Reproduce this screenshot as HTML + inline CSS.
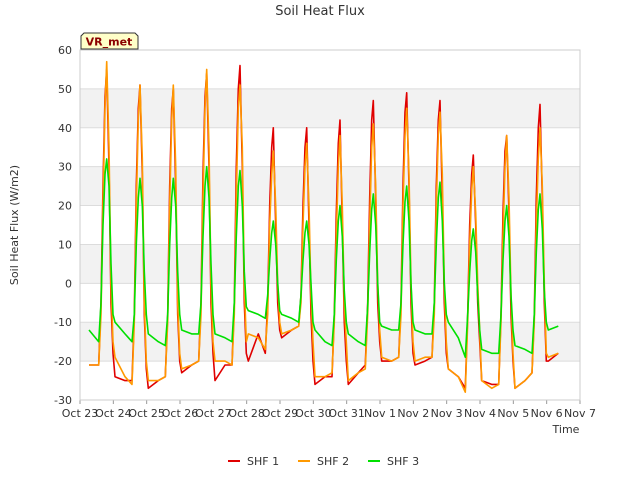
<!DOCTYPE html>
<html><head><meta charset="utf-8"><style>
body{margin:0;background:#fff;font-family:"DejaVu Sans","Liberation Sans",sans-serif;}
svg text{font-family:"DejaVu Sans","Liberation Sans",sans-serif;}
</style></head><body>
<svg id="chart" width="640" height="480" viewBox="0 0 640 480">
<text x="320" y="15" text-anchor="middle" font-size="13" fill="#333">Soil Heat Flux</text>
<text transform="translate(18,225) rotate(-90)" text-anchor="middle" font-size="11" fill="#333">Soil Heat Flux (W/m2)</text>
<text x="566" y="433" text-anchor="middle" font-size="11" fill="#333">Time</text>
<g id="bands"></g><g id="grid"></g><g id="ticks"></g><g id="series"></g>
<rect x="80" y="50" width="500" height="350" fill="none" stroke="#ccc"/>
<g>
<path d="M81,49 L81,36 L84,33 L135,33 L138,36 L138,49 Z" fill="#ffffc8" stroke="#333"/>
<text x="109" y="45.5" text-anchor="middle" font-size="11" font-weight="bold" fill="#8b0000">VR_met</text></g>
<g id="legend"></g>
</svg>
<script>
const yTicks=[-30,-20,-10,0,10,20,30,40,50,60];
const xLabels=["Oct 23","Oct 24","Oct 25","Oct 26","Oct 27","Oct 28","Oct 29","Oct 30","Oct 31","Nov 1","Nov 2","Nov 3","Nov 4","Nov 5","Nov 6","Nov 7"];
const fracs=[0.05,0.35,0.56,0.63,0.69,0.75,0.8,0.87,0.93,0.99];
const shf1=[
[null,-21,-21,-5,25,48,55,30,-5,-18],[-24,-25,-25,-8,25,45,51,28,-8,-22],[-27,-25,-24,-8,25,45,50,25,-8,-20],
[-23,-21,-20,-5,28,48,54,30,-5,-18],[-25,-21,-21,-5,30,50,56,30,-5,-18],[-20,-13,-18,-5,20,35,40,15,-5,-12],
[-14,-12,-11,-3,20,35,40,15,-8,-20],[-26,-24,-24,-8,18,36,42,15,-10,-20],[-26,-23,-21,-5,22,42,47,22,-5,-15],
[-20,-20,-19,-5,25,44,49,25,-5,-18],[-21,-20,-19,-5,25,42,47,22,-5,-18],[-22,-24,-27,-8,15,28,33,15,-5,-15],
[-25,-26,-26,-8,18,34,38,18,-8,-20],[-27,-25,-23,-8,22,40,46,22,-5,-20],[-20,-18]];
const shf2=[
[null,-21,-21,-8,20,45,57,35,0,-15],[-19,-24,-26,-10,20,42,51,32,-5,-20],[-25,-25,-24,-10,20,42,51,30,-5,-18],
[-22,-21,-20,-8,22,45,55,35,0,-15],[-20,-20,-21,-8,22,45,51,35,0,-15],[-13,-14,-17,-8,15,28,34,20,0,-10],
[-13,-12,-11,-5,15,30,36,20,-3,-15],[-24,-24,-23,-10,12,30,38,20,-5,-15],[-25,-23,-22,-8,15,35,41,25,0,-12],
[-19,-20,-19,-8,20,38,45,28,0,-15],[-20,-19,-19,-8,20,38,44,28,0,-15],[-22,-24,-28,-10,10,24,30,18,0,-12],
[-25,-27,-26,-10,12,30,38,22,-3,-18],[-27,-25,-23,-10,15,32,40,25,0,-18],[-19,-18]];
const shf3=[
[null,-12,-15,-5,15,28,32,25,5,-8],[-10,-13,-15,-8,10,22,27,20,3,-8],[-13,-15,-16,-8,10,22,27,20,3,-8],
[-12,-13,-13,-5,12,25,30,22,5,-8],[-13,-14,-15,-5,12,25,29,20,3,-6],[-7,-8,-9,-3,6,13,16,10,0,-7],
[-8,-9,-10,-3,6,13,16,10,0,-10],[-12,-15,-16,-8,6,16,20,12,-2,-10],[-13,-15,-16,-6,8,19,23,15,0,-10],
[-11,-12,-12,-5,10,21,25,16,0,-10],[-12,-13,-13,-5,10,22,26,16,0,-8],[-10,-14,-19,-8,3,11,14,8,-3,-12],
[-17,-18,-18,-8,6,16,20,12,-3,-12],[-16,-17,-18,-8,8,19,23,14,-2,-10],[-12,-11]];
const seriesNames=["SHF 1","SHF 2","SHF 3"];
const colors=["#e00000","#ff9900","#00e000"];
const NS="http://www.w3.org/2000/svg";
const X=d=>80+d*500/15, Y=v=>400-(v+30)*350/90;
function mk(t,a,p){const e=document.createElementNS(NS,t);for(const k in a)e.setAttribute(k,a[k]);p.appendChild(e);return e;}
const bands=document.getElementById('bands'),grid=document.getElementById('grid'),ticks=document.getElementById('ticks');
for(let i=0;i<yTicks.length-1;i++){ if(i%2===1){const b=mk('rect',{x:80,y:Y(yTicks[i+1]),width:500,height:Y(yTicks[i])-Y(yTicks[i+1]),fill:'#f2f2f2'},bands);

}}
yTicks.forEach(v=>{const l=mk('line',{x1:80,x2:580,y1:Y(v),y2:Y(v),stroke:'#dcdcdc'},grid);


const t=mk('text',{x:72,y:Y(v)+4,'text-anchor':'end','font-size':11,fill:'#333'},ticks);t.textContent=v;

});
xLabels.forEach((s,i)=>{const l=mk('line',{x1:X(i),x2:X(i),y1:400,y2:404,stroke:'#999'},ticks);


const t=mk('text',{x:X(i),y:417,'text-anchor':'middle','font-size':11,fill:'#333'},ticks);t.textContent=s;

});
const sg=document.getElementById('series');
[shf1,shf2,shf3].forEach((ser,si)=>{const pts=[];ser.forEach((day,d)=>day.forEach((v,k)=>{if(v!==null){const f=(d===0&&k===1)?0.27:fracs[k];pts.push(X(d+f).toFixed(1)+','+Y(v).toFixed(1));}}));
const p=mk('polyline',{points:pts.join(' '),fill:'none',stroke:colors[si],'stroke-width':1.6,'stroke-linejoin':'round'},sg);

});
const lg=document.getElementById('legend');
[228,298,368].forEach((x,i)=>{const g=mk('g',{},lg);


mk('line',{x1:x,x2:x+12,y1:461,y2:461,stroke:colors[i],'stroke-width':2},g);
const t=mk('text',{x:x+19,y:465,'font-size':11,fill:'#333'},g);t.textContent=seriesNames[i];});
</script>
</body></html>
